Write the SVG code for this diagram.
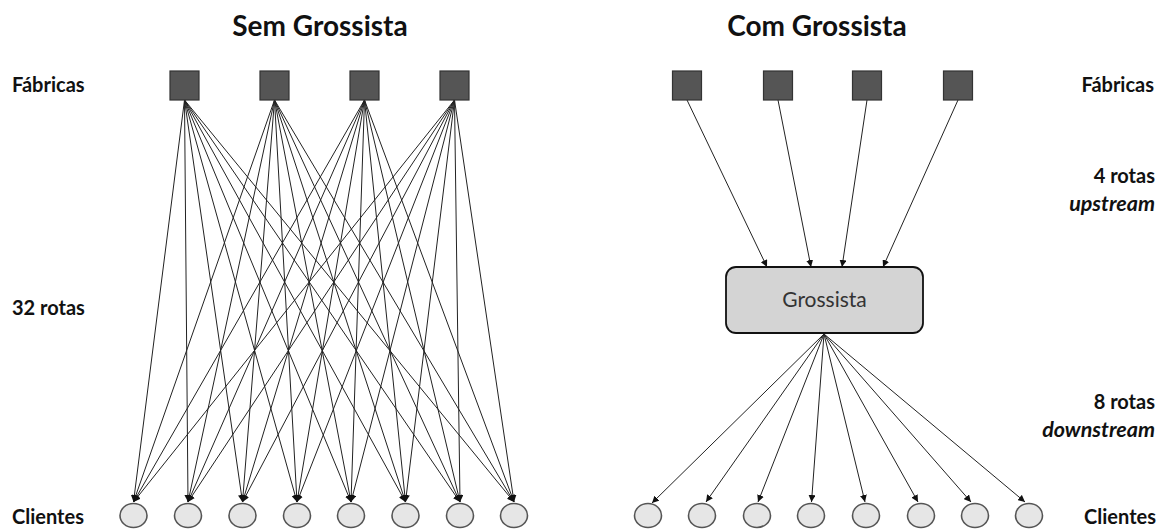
<svg xmlns="http://www.w3.org/2000/svg" width="1167" height="529" viewBox="0 0 1167 529">
  <style>
    .title { font-family: Lato, "Liberation Sans", sans-serif; font-weight: bold; font-size: 28px; fill: #111; text-anchor: middle; }
    .lbl { font-family: Lato, "Liberation Sans", sans-serif; font-weight: bold; font-size: 20px; fill: #111; }
    .lbl-r { text-anchor: end; }
    .it { font-style: italic; font-size: 21.5px; }
    .factory { fill: #555; stroke: #333; stroke-width: 1.2; }
    .client { fill: #e6e6e6; stroke: #555; stroke-width: 1.6; }
    .hub { fill: #d4d4d4; stroke: #111; stroke-width: 1.8; }
    .hub-text { font-family: Lato, "Liberation Sans", sans-serif; font-size: 21px; fill: #333; text-anchor: middle; }
    .edge { stroke: #222; stroke-width: 1; fill: none; marker-end: url(#arrow); }
  </style>
  <defs>
    <marker id="arrow" markerUnits="userSpaceOnUse" markerWidth="8" markerHeight="7" refX="7" refY="3.5" orient="auto">
      <path d="M0,0 L7,3.5 L0,7 Z" fill="#111"/>
    </marker>
  </defs>
  <rect width="1167" height="529" fill="#fff"/>

  <!-- headings -->
  <text class="title" x="320" y="36">Sem Grossista</text>
  <text class="title" x="817" y="36">Com Grossista</text>

  <!-- side labels -->
  <text class="lbl" x="12" y="92">Fábricas</text>
  <text class="lbl" x="12" y="315">32 rotas</text>
  <text class="lbl" x="12" y="524">Clientes</text>
  <text class="lbl lbl-r" x="1154" y="92">Fábricas</text>
  <text class="lbl lbl-r" x="1155" y="183">4 rotas</text>
  <text class="lbl lbl-r it" x="1155" y="211">upstream</text>
  <text class="lbl lbl-r" x="1155" y="409">8 rotas</text>
  <text class="lbl lbl-r it" x="1155" y="437">downstream</text>
  <text class="lbl lbl-r" x="1156" y="524">Clientes</text>

  <!-- connectors -->
  <g id="connectors">
    <!-- direct routes: every factory to every client -->
    <g id="direct-routes">
      <line class="edge" x1="184.5" y1="100" x2="133.5" y2="502"/>
      <line class="edge" x1="184.5" y1="100" x2="188" y2="502"/>
      <line class="edge" x1="184.5" y1="100" x2="242.5" y2="502"/>
      <line class="edge" x1="184.5" y1="100" x2="297" y2="502"/>
      <line class="edge" x1="184.5" y1="100" x2="351" y2="502"/>
      <line class="edge" x1="184.5" y1="100" x2="405.5" y2="502"/>
      <line class="edge" x1="184.5" y1="100" x2="460" y2="502"/>
      <line class="edge" x1="184.5" y1="100" x2="514" y2="502"/>

      <line class="edge" x1="274.5" y1="100" x2="133.5" y2="502"/>
      <line class="edge" x1="274.5" y1="100" x2="188" y2="502"/>
      <line class="edge" x1="274.5" y1="100" x2="242.5" y2="502"/>
      <line class="edge" x1="274.5" y1="100" x2="297" y2="502"/>
      <line class="edge" x1="274.5" y1="100" x2="351" y2="502"/>
      <line class="edge" x1="274.5" y1="100" x2="405.5" y2="502"/>
      <line class="edge" x1="274.5" y1="100" x2="460" y2="502"/>
      <line class="edge" x1="274.5" y1="100" x2="514" y2="502"/>

      <line class="edge" x1="364.5" y1="100" x2="133.5" y2="502"/>
      <line class="edge" x1="364.5" y1="100" x2="188" y2="502"/>
      <line class="edge" x1="364.5" y1="100" x2="242.5" y2="502"/>
      <line class="edge" x1="364.5" y1="100" x2="297" y2="502"/>
      <line class="edge" x1="364.5" y1="100" x2="351" y2="502"/>
      <line class="edge" x1="364.5" y1="100" x2="405.5" y2="502"/>
      <line class="edge" x1="364.5" y1="100" x2="460" y2="502"/>
      <line class="edge" x1="364.5" y1="100" x2="514" y2="502"/>

      <line class="edge" x1="454.5" y1="100" x2="133.5" y2="502"/>
      <line class="edge" x1="454.5" y1="100" x2="188" y2="502"/>
      <line class="edge" x1="454.5" y1="100" x2="242.5" y2="502"/>
      <line class="edge" x1="454.5" y1="100" x2="297" y2="502"/>
      <line class="edge" x1="454.5" y1="100" x2="351" y2="502"/>
      <line class="edge" x1="454.5" y1="100" x2="405.5" y2="502"/>
      <line class="edge" x1="454.5" y1="100" x2="460" y2="502"/>
      <line class="edge" x1="454.5" y1="100" x2="514" y2="502"/>
    </g>
    <!-- upstream: factories to wholesaler -->
    <g id="upstream-routes">
      <line class="edge" x1="687" y1="100" x2="767" y2="267"/>
      <line class="edge" x1="778" y1="100" x2="811" y2="267"/>
      <line class="edge" x1="867" y1="100" x2="842" y2="267"/>
      <line class="edge" x1="958" y1="100" x2="883" y2="267"/>
    </g>
    <!-- downstream: wholesaler to clients -->
    <g id="downstream-routes">
      <line class="edge" x1="824" y1="334" x2="652" y2="503"/>
      <line class="edge" x1="824" y1="334" x2="706" y2="502"/>
      <line class="edge" x1="824" y1="334" x2="758" y2="502"/>
      <line class="edge" x1="824" y1="334" x2="811.5" y2="502"/>
      <line class="edge" x1="824" y1="334" x2="865" y2="502"/>
      <line class="edge" x1="824" y1="334" x2="918" y2="502"/>
      <line class="edge" x1="824" y1="334" x2="971" y2="502"/>
      <line class="edge" x1="824" y1="334" x2="1025" y2="502"/>
    </g>
  </g>

  <!-- left: factories -->
  <g id="l-factory-1"><rect class="factory" x="170" y="71" width="29" height="29"/></g>
  <g id="l-factory-2"><rect class="factory" x="260" y="71" width="29" height="29"/></g>
  <g id="l-factory-3"><rect class="factory" x="350" y="71" width="29" height="29"/></g>
  <g id="l-factory-4"><rect class="factory" x="440" y="71" width="29" height="29"/></g>

  <!-- left: clients -->
  <g id="l-client-1"><ellipse class="client" cx="133.5" cy="515.5" rx="13.5" ry="12"/></g>
  <g id="l-client-2"><ellipse class="client" cx="188" cy="515.5" rx="13.5" ry="12"/></g>
  <g id="l-client-3"><ellipse class="client" cx="242.5" cy="515.5" rx="13.5" ry="12"/></g>
  <g id="l-client-4"><ellipse class="client" cx="297" cy="515.5" rx="13.5" ry="12"/></g>
  <g id="l-client-5"><ellipse class="client" cx="351" cy="515.5" rx="13.5" ry="12"/></g>
  <g id="l-client-6"><ellipse class="client" cx="405.5" cy="515.5" rx="13.5" ry="12"/></g>
  <g id="l-client-7"><ellipse class="client" cx="460" cy="515.5" rx="13.5" ry="12"/></g>
  <g id="l-client-8"><ellipse class="client" cx="514" cy="515.5" rx="13.5" ry="12"/></g>

  <!-- right: factories -->
  <g id="r-factory-1"><rect class="factory" x="672.5" y="71" width="29" height="29"/></g>
  <g id="r-factory-2"><rect class="factory" x="763.5" y="71" width="29" height="29"/></g>
  <g id="r-factory-3"><rect class="factory" x="852.5" y="71" width="29" height="29"/></g>
  <g id="r-factory-4"><rect class="factory" x="943.5" y="71" width="29" height="29"/></g>

  <!-- right: wholesaler -->
  <g id="grossista">
    <rect class="hub" x="726" y="267" width="197" height="66" rx="10" ry="10"/>
    <text class="hub-text" x="824.5" y="307">Grossista</text>
  </g>

  <!-- right: clients -->
  <g id="r-client-1"><ellipse class="client" cx="648" cy="515.5" rx="13.5" ry="12"/></g>
  <g id="r-client-2"><ellipse class="client" cx="702" cy="515.5" rx="13.5" ry="12"/></g>
  <g id="r-client-3"><ellipse class="client" cx="757" cy="515.5" rx="13.5" ry="12"/></g>
  <g id="r-client-4"><ellipse class="client" cx="811" cy="515.5" rx="13.5" ry="12"/></g>
  <g id="r-client-5"><ellipse class="client" cx="866" cy="515.5" rx="13.5" ry="12"/></g>
  <g id="r-client-6"><ellipse class="client" cx="921" cy="515.5" rx="13.5" ry="12"/></g>
  <g id="r-client-7"><ellipse class="client" cx="975" cy="515.5" rx="13.5" ry="12"/></g>
  <g id="r-client-8"><ellipse class="client" cx="1029" cy="515.5" rx="13.5" ry="12"/></g>
</svg>
